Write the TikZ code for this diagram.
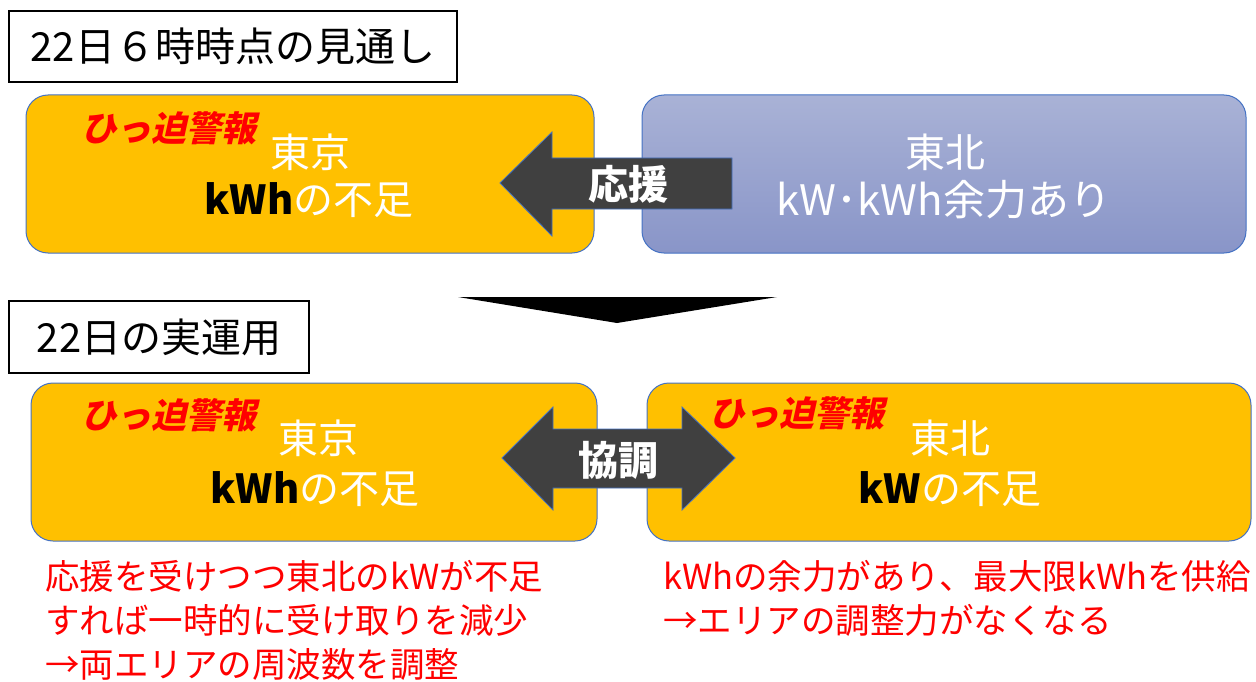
\documentclass[tikz,border=0pt]{standalone}
\usepackage{fontspec}
\setmainfont{Noto Sans CJK JP}
\newfontfamily\jpsl{Noto Sans CJK JP}[FakeSlant=0.22]
\definecolor{orng}{HTML}{FFC000}
\definecolor{bord}{HTML}{4472C4}
\definecolor{bluetop}{HTML}{A9B2D6}
\definecolor{bluebot}{HTML}{8995C8}
\definecolor{darkarrow}{HTML}{404040}
\definecolor{redtxt}{HTML}{FF0000}
\begin{document}
\begin{tikzpicture}[x=1pt,y=-1pt,
  titlebox/.style={draw=black,line width=1.8pt,rectangle,inner sep=0pt,font=\fontsize{40}{48}\selectfont,text=black},
  areabox/.style={rectangle,rounded corners=22pt,draw=bord,line width=1pt,inner sep=0pt},
  alert/.style={text=redtxt,font=\fontsize{35}{40}\jpsl\bfseries,inner sep=0pt},
  whitetxt/.style={text=white,font=\fontsize{40}{48}\selectfont,inner sep=0pt},
  blockarrow/.style={fill=darkarrow,draw=bord,line width=0.8pt},
  arrowlbl/.style={text=white,font=\fontsize{40}{48}\selectfont\bfseries,inner sep=0pt},
  note/.style={text=redtxt,font=\fontsize{34.5}{44}\selectfont,inner sep=0pt,align=left,anchor=north west}]
\useasboundingbox[fill=white] (0,0) rectangle (1256,682);

% titles
\node[titlebox,minimum width=448pt,minimum height=71pt] (t1) at (233,46.5) {22日６時時点の見通し};
\node[titlebox,minimum width=300pt,minimum height=72pt] (t2) at (159,337) {22日の実運用};

% top row boxes
\node[areabox,fill=orng,minimum width=568pt,minimum height=158pt] (b1) at (310,174) {};
\node[areabox,top color=bluetop,bottom color=bluebot,minimum width=604pt,minimum height=158pt] (b2) at (944,174) {};

\node[alert] (a1) at (169,128) {ひっ迫警報};
\node[whitetxt] (b1l1) at (310,152) {東京};
\node[whitetxt] (b1l2) at (309,200) {{\bfseries\color{black}kWh}の不足};
\node[whitetxt] (b2l1) at (945,152) {東北};
\node[whitetxt,font=\fontsize{42}{48}\selectfont] (b2l2) at (944,200) {kW･kWh余力あり};

% support arrow
\draw[blockarrow] (500,183) -- (552,132) -- (552,158) -- (732,158) -- (732,209) -- (552,209) -- (552,236) -- cycle;
\node[arrowlbl] (s1) at (628,184) {応援};

% down triangle
\fill[black] (458,297) -- (777,297) -- (617,323) -- cycle;

% bottom row boxes
\node[areabox,fill=orng,minimum width=566pt,minimum height=158pt] (b3) at (314,462) {};
\node[areabox,fill=orng,minimum width=604pt,minimum height=158pt] (b4) at (949,462) {};

\node[alert] (a3) at (169,415) {ひっ迫警報};
\node[whitetxt] (b3l1) at (318,438) {東京};
\node[whitetxt] (b3l2) at (315,489) {{\bfseries\color{black}kWh}の不足};
\node[alert] (a4) at (797,413) {ひっ迫警報};
\node[whitetxt] (b4l1) at (950,438) {東北};
\node[whitetxt] (b4l2) at (950,489) {{\bfseries\color{black}kW}の不足};

% coordination arrow
\draw[blockarrow] (502,458) -- (553,407) -- (553,429) -- (682,429) -- (682,407) -- (735,458) -- (682,510) -- (682,488) -- (553,488) -- (553,510) -- cycle;
\node[arrowlbl] (s2) at (618,460) {協調};

% notes
\node[note] (n1) at (45,560) {応援を受けつつ東北のkWが不足\\すれば一時的に受け取りを減少\\→両エリアの周波数を調整};
\node[note] (n2) at (663,560) {kWhの余力があり、最大限kWhを供給\\→エリアの調整力がなくなる};
\end{tikzpicture}
\end{document}
